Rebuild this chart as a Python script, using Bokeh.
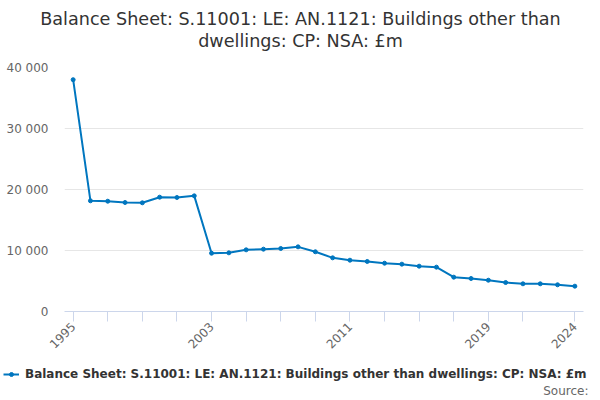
from math import pi
from bokeh.plotting import figure
from bokeh.layouts import column
from bokeh.models import (Range1d, FixedTicker, Legend, LegendItem,
                          ColumnDataSource, Label)
from bokeh.embed import file_html
from bokeh.resources import INLINE

years = list(range(1995, 2025))
values = [38000, 18150, 18080, 17870, 17820, 18740, 18690, 18960,
          9560, 9620, 10110, 10220, 10330, 10600, 9790, 8800,
          8410, 8200, 7920, 7760, 7430, 7270, 5630, 5410,
          5130, 4750, 4540, 4540, 4380, 4150]
x_ticks = [1995, 1997, 1999, 2001, 2003, 2005, 2007, 2009, 2011, 2013,
           2015, 2017, 2019, 2021, 2024]
x_labels = {1995: "1995", 2003: "2003", 2011: "2011", 2019: "2019", 2024: "2024"}
y_ticks = [0, 10000, 20000, 30000, 40000]
y_labels = {0: "0", 10000: "10 000", 20000: "20 000", 30000: "30 000", 40000: "40 000"}

title_lines = ["Balance Sheet: S.11001: LE: AN.1121: Buildings other than",
               "dwellings: CP: NSA: £m"]
series_name = "Balance Sheet: S.11001: LE: AN.1121: Buildings other than dwellings: CP: NSA: £m"
source_text = "Source:"

FONT = "DejaVu Sans"
LINE_COLOR = "#0076bf"
W = 600


def bare(height):
    f = figure(width=W, height=height, output_backend="svg", toolbar_location=None,
               x_axis_location=None, y_axis_location=None,
               x_range=Range1d(0, 1), y_range=Range1d(0, 1),
               min_border=0, min_border_left=0, min_border_right=0,
               min_border_top=0, min_border_bottom=0, frame_align=False)
    f.outline_line_color = None
    f.grid.grid_line_color = None
    f.background_fill_color = "white"
    f.border_fill_color = "white"
    return f


src = ColumnDataSource(dict(x=years, y=values))

# ---- title strip ----
TH = 55
pt = bare(TH)
for text, cy in zip(title_lines, [18, 40]):
    pt.add_layout(Label(x=W / 2, y=TH - cy, x_units="screen", y_units="screen",
                        text=text, text_align="center", text_baseline="middle",
                        text_font=FONT, text_font_size="17.6px",
                        text_color="#333333"))

# ---- main chart ----
PH = 303
p = figure(width=W, height=PH, output_backend="svg", toolbar_location=None,
           x_range=Range1d(1994.5, 2024.5), y_range=Range1d(0, 40000),
           min_border_left=64, min_border_right=17, min_border_top=12,
           min_border_bottom=47, frame_align=False)
p.outline_line_color = None
p.background_fill_color = "white"
p.border_fill_color = "white"

r_line = p.line("x", "y", source=src, line_color=LINE_COLOR, line_width=2)
r_pts = p.scatter("x", "y", source=src, size=4, fill_color=LINE_COLOR,
                  line_color=LINE_COLOR)

xa = p.xaxis[0]
xa.ticker = FixedTicker(ticks=x_ticks)
xa.major_label_overrides = {t: x_labels.get(t, "") for t in x_ticks}
xa.major_label_orientation = pi / 4
xa.major_label_text_font = FONT
xa.major_label_text_font_size = "12px"
xa.major_label_text_color = "#666666"
xa.axis_line_color = "#ccd6eb"
xa.major_tick_line_color = "#ccd6eb"
xa.major_tick_out = 10
xa.major_tick_in = 0
xa.minor_tick_line_color = None
xa.major_label_standoff = 3

ya = p.yaxis[0]
ya.ticker = FixedTicker(ticks=y_ticks)
ya.major_label_overrides = y_labels
ya.major_label_text_font = FONT
ya.major_label_text_font_size = "12px"
ya.major_label_text_color = "#666666"
ya.axis_line_color = None
ya.major_tick_line_color = None
ya.major_tick_out = 0
ya.major_tick_in = 0
ya.minor_tick_line_color = None
ya.major_label_standoff = 16

p.xgrid.grid_line_color = None
p.ygrid.grid_line_color = "#e6e6e6"
p.ygrid.ticker = FixedTicker(ticks=y_ticks)

# ---- legend / source strip (its series renderers fall outside this strip's
# view, so only the legend sample is visible) ----
LH = 42
pl = bare(LH)
l_line = pl.line("x", "y", source=src, line_color=LINE_COLOR, line_width=2)
l_pts = pl.scatter("x", "y", source=src, size=4, fill_color=LINE_COLOR,
                   line_color=LINE_COLOR)
legend = Legend(items=[LegendItem(label=series_name, renderers=[l_line, l_pts])],
                orientation="horizontal", location=(3, LH - 24),
                label_text_font=FONT, label_text_font_style="bold",
                label_text_font_size="12px", label_text_color="#333333",
                glyph_width=16, glyph_height=10, label_height=16,
                label_standoff=6, padding=0, margin=0, spacing=0,
                border_line_color=None, background_fill_alpha=0)
pl.add_layout(legend, "center")
pl.add_layout(Label(x=588, y=LH - 32, x_units="screen", y_units="screen",
                    text=source_text, text_align="right", text_baseline="middle",
                    text_font=FONT, text_font_size="12px", text_color="#666666"))

layout = column(pt, p, pl, spacing=0)
open("out.html", "w").write(file_html(layout, INLINE))
